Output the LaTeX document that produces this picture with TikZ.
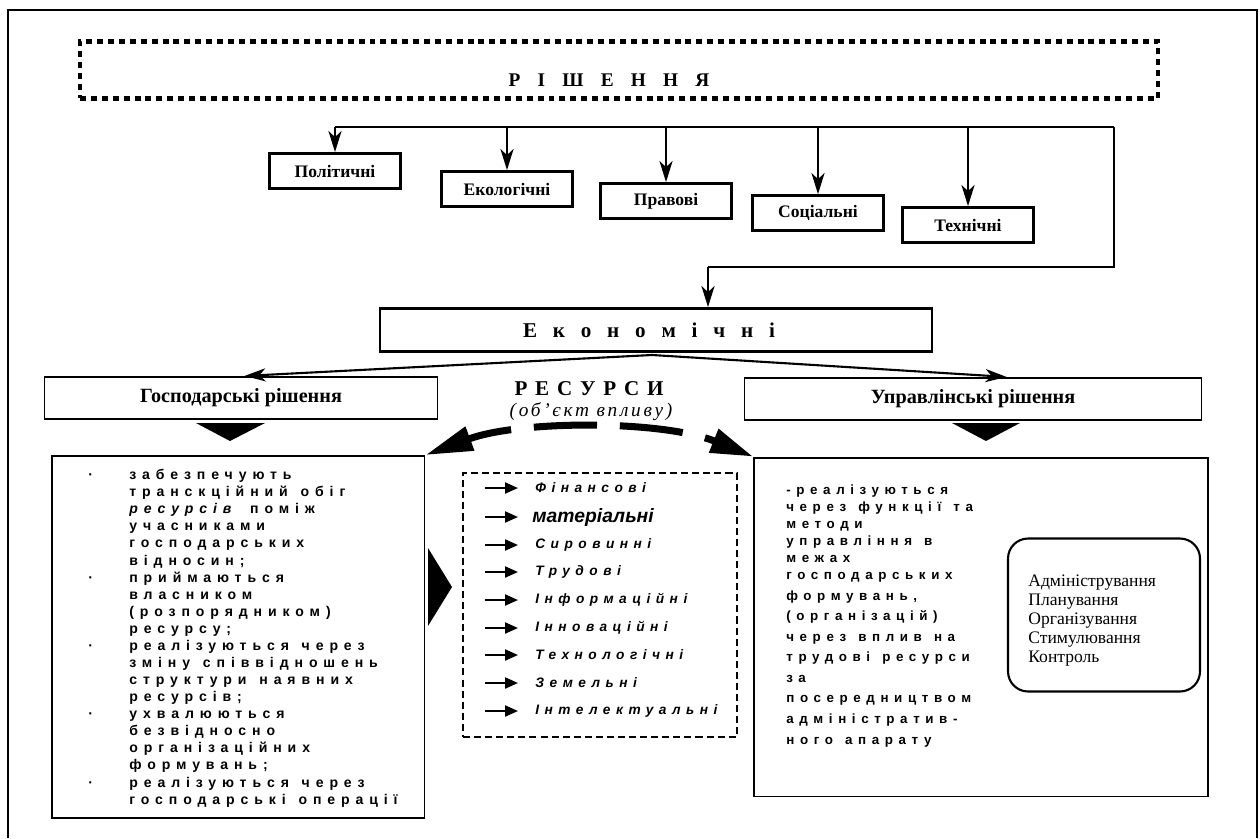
\documentclass[tikz,border=0pt]{standalone}
\usepackage{fontspec}
\setmainfont{Liberation Serif}
\setsansfont{Liberation Sans}
\newfontfamily\bodyfont{Liberation Sans}[LetterSpace=42, WordSpace=1.3]
\newfontfamily\resfont{Liberation Sans}[LetterSpace=40]
\usetikzlibrary{arrows.meta,positioning,calc}

\newcommand{\bul}{\makebox[0.82cm][l]{·}}
\newcommand{\nob}{\hspace*{0.82cm}}

\begin{document}
\begin{tikzpicture}[x=0.02cm, y=-0.02cm,
    kindbox/.style={draw, line width=1.6pt, fill=white, minimum width=2.62cm, minimum height=0.7cm,
                    font=\fontsize{10}{12}\selectfont\bfseries},
    kindarrow/.style={line width=1.4pt, -{Stealth[length=0.42cm, width=0.26cm, inset=0.12cm]}},
    decbox/.style={draw, line width=1pt, minimum height=0.84cm, font=\fontsize{11.5}{13}\selectfont\bfseries},
    textbox/.style={draw, line width=1.1pt},
    bodytext/.style={align=left, inner sep=0, font=\fontsize{8}{9.72}\selectfont\bodyfont\bfseries},
    resitem/.style={anchor=west, inner sep=0, font=\fontsize{7.8}{9}\selectfont\resfont\bfseries\itshape},
    resarrow/.style={line width=1.2pt, -{Triangle[length=0.26cm, width=0.22cm]}}]
    \useasboundingbox (0,0) rectangle (1260,838);

    % Frame
    \draw[line width=1pt] (8,838) -- (8,10) -- (1257,10) -- (1257,838);

    % Decisions
    \node[draw, line width=2.5pt, dash pattern=on 3.4pt off 2.8pt, minimum width=21.56cm, minimum height=1.14cm] (rish) at (619,70) {};
    \node[font=\fontsize{11}{13}\selectfont\bfseries\addfontfeature{LetterSpace=64}] (rishtext) at (609,80) {Р І Ш Е Н Н Я};

    \node[kindbox] (pol) at (335,171) {Політичні};
    \node[kindbox] (eko) at (507,189) {Екологічні};
    \node[kindbox] (pra) at (666,201) {Правові};
    \node[kindbox] (soc) at (818,213) {Соціальні};
    \node[kindbox] (teh) at (968,225) {Технічні};

    \coordinate (bus) at (335,127);
    \coordinate (turn) at (1114,127);
    \coordinate (back) at (1114,267);
    \coordinate (drop) at (708,267);
    \draw[line width=1.2pt] (bus) -- (turn);
    \foreach \k in {pol,eko,pra,soc,teh}
        \draw[kindarrow] (\k.north |- bus) -- (\k.north);

    % Economic
    \node[draw, line width=1.6pt, minimum width=11.04cm, minimum height=0.86cm,
          font=\fontsize{12}{14}\selectfont\bfseries\addfontfeature{LetterSpace=50}] (econ) at (656,330) {Е к о н о м і ч н і\hspace*{8pt}};
    \draw[line width=1pt] (turn) -- (back) -- (drop);
    \draw[kindarrow] (drop) -- (drop |- econ.north);

    \node[decbox, minimum width=7.86cm] (gosp) at (241,398) {Господарські рішення};
    \node[decbox, minimum width=9.14cm] (upr) at (973,399) {Управлінські рішення};
    \coordinate (fork) at (652,355);
    \draw[kindarrow, line width=1.2pt, shorten >=2pt] (fork) -- (gosp.north);
    \draw[kindarrow, line width=1.2pt, shorten >=2pt] (fork) -- ($(upr.north)+(37,0)$);
    \fill (196,423) -- (265,423) -- (230,441) -- cycle;
    \fill (952,423) -- (1020,423) -- (986,441) -- cycle;

    % Resources
    \node[font=\fontsize{12}{14}\selectfont\bfseries\addfontfeature{LetterSpace=12}] (res) at (589,389) {Р Е С У Р С И};
    \node[font=\fontsize{11}{13}\selectfont\itshape\addfontfeature{LetterSpace=14}] (obj) at (591,412) {(об’єкт впливу)};

    \node[textbox, minimum width=7.46cm, minimum height=7.24cm] (lbox) at (238,637) {};
    \node[draw, line width=1.2pt, dash pattern=on 4pt off 2.3pt, minimum width=5.48cm, minimum height=5.28cm] (resbox) at (600,605) {};
    \node[textbox, minimum width=9.08cm, minimum height=6.78cm] (mbox) at (981,627) {};
    \node[draw, line width=1.2pt, rounded corners=0.4cm, minimum width=3.84cm, minimum height=3.06cm] (funcbox) at (1104,615) {};

    \draw[line width=4pt, dash pattern=on 36pt off 13pt, dash phase=11pt,
          {Triangle[length=0.95cm, width=0.48cm]}-{Triangle[length=0.85cm, width=0.48cm]}]
        (lbox.north east) .. controls (520,420) and (662,420) .. (mbox.north west);
    \fill (428,548) -- (452,587) -- (428,626) -- cycle;

    \node[resitem] (r1) at (535,488) {Фінансові};
    \node[resitem, font=\fontsize{11}{13}\selectfont\sffamily\bfseries\itshape] (r2) at (532,517) {матеріальні};
    \node[resitem] (r3) at (535,545) {Сировинні};
    \node[resitem] (r4) at (535,572) {Трудові};
    \node[resitem] (r5) at (535,600) {Інформаційні};
    \node[resitem] (r6) at (535,628) {Інноваційні};
    \node[resitem] (r7) at (535,655) {Технологічні};
    \node[resitem] (r8) at (535,683) {Земельні};
    \node[resitem] (r9) at (535,711) {Інтелектуальні};
    \foreach \r in {r1,r3,r4,r5,r6,r7,r8,r9}
        \draw[resarrow] ($(\r.west)+(-50,0)$) -- ++(33,0);
    \draw[resarrow] ($(r2.west)+(-47,0)$) -- ++(33,0);

    % Texts
    \node[bodytext, anchor=north west] (ltext) at (88,469) {\bul забезпечують\\
        \nob транскційний обіг\\
        \nob \textit{ресурсів} поміж\\
        \nob учасниками\\
        \nob господарських\\
        \nob відносин;\\
        \bul приймаються\\
        \nob власником\\
        \nob (розпорядником)\\
        \nob ресурсу;\\
        \bul реалізуються через\\
        \nob зміну співвідношень\\
        \nob структури наявних\\
        \nob ресурсів;\\
        \bul ухвалюються\\
        \nob безвідносно\\
        \nob організаційних\\
        \nob формувань;\\
        \bul реалізуються через\\
        \nob господарські операції};

    \node[bodytext, anchor=north west, font=\fontsize{7.6}{9.72}\selectfont\bodyfont\bfseries] (mtext) at (786,484) {-реалізуються\\
        через функції та\\
        методи\\
        управління в\\
        межах\\
        господарських\\[2pt]
        формувань,\\[2pt]
        (організацій)\\[2pt]
        через вплив на\\[2pt]
        трудові ресурси\\[2pt]
        за\\[2pt]
        посередництвом\\[2pt]
        адміністратив-\\[2pt]
        ного апарату};

    \node[align=left, anchor=north west, inner sep=0, font=\fontsize{10}{10.8}\selectfont] (ftext) at (1028,575)
        {Адміністрування\\ Планування\\ Організування\\ Стимулювання\\ Контроль};
\end{tikzpicture}
\end{document}
